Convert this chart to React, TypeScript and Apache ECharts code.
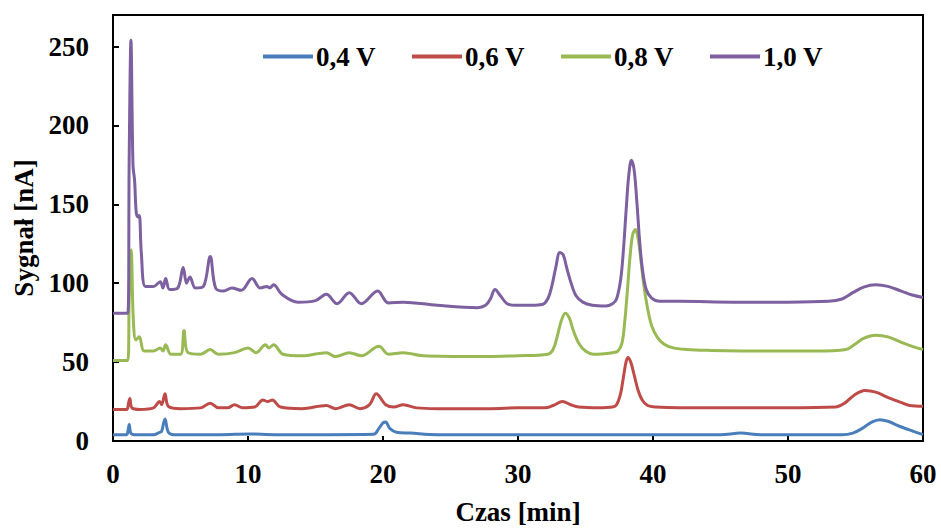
import React, { useEffect, useRef } from "react";
import * as echarts from "echarts";

const seriesNames = ["0,4 V", "0,6 V", "0,8 V", "1,0 V"];
const seriesColors = ["#4a7ebb", "#be4b48", "#98b954", "#7d60a0"];

const xTicks = [0, 10, 20, 30, 40, 50, 60];
const yTicks = [0, 50, 100, 150, 200, 250];

// [time (min), signal (nA)]
const v04: [number, number][] = [
  [0, 4], [1.0, 4], [1.12, 7], [1.2, 10.5], [1.32, 5], [1.6, 4], [3.0, 4], [3.45, 5.5], [3.6, 6],
  [3.85, 14], [4.1, 5.5], [4.5, 4], [8, 4], [10, 4.5], [12, 4], [16, 4], [19.3, 4.2], [19.7, 8],
  [20.0, 11.5], [20.2, 12], [20.5, 8], [21, 5.5], [22, 5], [24, 4], [30, 4], [40, 4], [45, 4],
  [46.5, 5], [48, 4], [54, 4], [54.8, 5], [55.5, 8], [56.2, 12], [56.8, 13.5], [57.4, 12.5],
  [58.2, 9.5], [59.0, 7], [60, 4]
];

const v06: [number, number][] = [
  [0, 20], [1.0, 20], [1.15, 24], [1.25, 27], [1.4, 21], [2, 20], [3, 21], [3.45, 25], [3.6, 23],
  [3.85, 30], [4.1, 22], [5, 20.5], [6.5, 21], [7.2, 24], [7.8, 21], [8.5, 21], [9.0, 23], [9.6, 21],
  [10.5, 21.5], [11.1, 26], [11.45, 25], [11.8, 26], [12.4, 21.5], [14, 20.5], [15.8, 22.5],
  [16.5, 20.5], [17.5, 23], [18.3, 20.5], [19.0, 23], [19.5, 30], [20.2, 23], [20.8, 21.5],
  [21.5, 23], [22.5, 21], [24, 20.5], [28, 20.5], [30, 21], [32, 21], [32.6, 22.5], [33.3, 25],
  [33.9, 23], [34.5, 21.5], [36, 21], [37.0, 21.5], [37.3, 23], [37.6, 30], [37.8, 40],
  [38.0, 50], [38.15, 53], [38.35, 50], [38.6, 42], [38.9, 32], [39.2, 26], [39.6, 22.5],
  [40.2, 21.5], [42, 21], [46, 21], [50, 21], [53.5, 21.5], [54.2, 24], [54.9, 29], [55.7, 32],
  [56.5, 31], [57.3, 28], [58.2, 25], [59, 22.5], [60, 22]
];

const v08: [number, number][] = [
  [0, 51], [1.1, 51], [1.2, 90], [1.35, 121], [1.5, 78], [1.7, 64], [1.95, 66], [2.3, 57],
  [3.0, 57], [3.5, 59], [3.7, 57], [3.9, 61], [4.3, 55], [5.0, 55], [5.26, 70], [5.55, 56],
  [6.5, 55], [7.2, 58], [7.8, 55], [9.0, 56], [10.0, 59], [10.6, 56], [11.3, 61], [11.55, 59],
  [11.9, 61], [12.6, 55], [14, 54], [15.8, 56], [16.5, 53.5], [17.5, 56], [18.4, 54], [19.7, 60],
  [20.4, 55], [21.5, 56], [23, 54], [27, 53.5], [30, 54], [32.2, 55], [32.6, 58], [32.9, 66],
  [33.2, 76], [33.5, 81], [33.8, 78], [34.1, 70], [34.5, 62], [35.0, 57], [35.6, 55], [37.0, 56],
  [37.4, 57], [37.7, 62], [37.9, 75], [38.1, 95], [38.3, 117], [38.5, 131], [38.7, 134],
  [38.9, 128], [39.1, 115], [39.3, 100], [39.6, 84], [39.9, 73], [40.3, 66], [40.8, 61.5],
  [41.5, 59], [42.5, 58], [44, 57.5], [48, 57], [52, 57], [54.3, 58], [54.9, 61], [55.6, 65],
  [56.5, 67], [57.4, 66], [58.4, 62.5], [59.2, 60], [60, 58]
];

const v10: [number, number][] = [
  [0, 81], [1.1, 81], [1.2, 180], [1.33, 254], [1.48, 175], [1.6, 165], [1.72, 145], [1.85, 142],
  [1.95, 143], [2.1, 119], [2.4, 98], [3.0, 98], [3.5, 101], [3.7, 97], [3.9, 103], [4.2, 96],
  [4.8, 97], [5.2, 110], [5.45, 100], [5.7, 104], [6.1, 97], [6.7, 98], [7.2, 117], [7.6, 97],
  [8.2, 95], [8.8, 97], [9.5, 95.5], [10.3, 103], [10.9, 97], [11.4, 98], [11.6, 97], [11.9, 99],
  [12.5, 93], [13.7, 88], [15, 89], [15.8, 93], [16.6, 87], [17.5, 94], [18.4, 87], [19.6, 95],
  [20.4, 87.5], [21.5, 88], [24, 86], [27, 84.5], [27.6, 86], [27.95, 90], [28.3, 96],
  [28.7, 92], [29.2, 87], [29.8, 86], [31, 86], [31.8, 86.5], [32.2, 90], [32.5, 98], [32.8, 110],
  [33.1, 119.5], [33.35, 118], [33.6, 110], [33.9, 101], [34.3, 92], [34.8, 88], [35.5, 86],
  [36.5, 85.5], [37.0, 87], [37.3, 90], [37.6, 102], [37.8, 120], [38.0, 145], [38.2, 168],
  [38.4, 178], [38.6, 172], [38.8, 152], [39.0, 128], [39.2, 110], [39.5, 96], [39.9, 90.5],
  [40.5, 88.5], [42, 88.5], [46, 88], [50, 88], [53, 88.5], [54.0, 90], [54.8, 94], [55.6, 97.5],
  [56.5, 99], [57.4, 98], [58.4, 95], [59.2, 92.5], [60, 91]
];

const seriesData = [v04, v06, v08, v10];

const FONT = "'Liberation Serif', 'Times New Roman', serif";

export default function App() {
  const ref = useRef<HTMLDivElement>(null);
  useEffect(() => {
    document.body.style.margin = "0";
    const chart = echarts.init(ref.current!, undefined, { renderer: "svg" });
    const textStyle = { fontFamily: FONT, fontWeight: "bold" as const, fontSize: 27, color: "#000" };
    chart.setOption({
      animation: false,
      backgroundColor: "#fff",
      textStyle: { fontFamily: FONT },
      legend: {
        left: 258,
        top: 38,
        itemWidth: 50,
        itemHeight: 4,
        itemGap: 36,
        icon: "rect",
        textStyle: { ...textStyle, padding: [0, 0, 0, -2] },
        data: seriesNames,
      },
      grid: {
        left: 113,
        right: 18,
        top: 15,
        bottom: 90,
        show: true,
        borderColor: "#000",
        borderWidth: 2,
      },
      xAxis: {
        type: "value",
        min: 0,
        max: 60,
        interval: 10,
        name: "Czas [min]",
        nameLocation: "middle",
        nameGap: 57,
        nameTextStyle: textStyle,
        axisLine: { show: true, lineStyle: { color: "#000", width: 2 } },
        axisTick: { show: true, inside: true, length: 5, lineStyle: { color: "#000", width: 2 } },
        axisLabel: {
          ...textStyle,
          margin: 19,
          formatter: (v: number) => (xTicks.includes(v) ? String(v) : ""),
        },
        splitLine: { show: false },
      },
      yAxis: {
        type: "value",
        min: 0,
        max: 270,
        interval: 50,
        name: "Sygnał [nA]",
        nameLocation: "middle",
        nameGap: 74,
        nameTextStyle: textStyle,
        axisLine: { show: true, lineStyle: { color: "#000", width: 2 } },
        axisTick: { show: true, inside: true, length: 6, lineStyle: { color: "#000", width: 2 } },
        axisLabel: {
          ...textStyle,
          margin: 24,
          formatter: (v: number) => (yTicks.includes(v) ? String(v) : ""),
        },
        splitLine: { show: false },
      },
      series: seriesData.map((d, i) => ({
        name: seriesNames[i],
        type: "line",
        data: d,
        showSymbol: false,
        smooth: 0.35,
        color: seriesColors[i],
        lineStyle: { width: 3, color: seriesColors[i] },
      })),
    });
    return () => chart.dispose();
  }, []);
  return (
    <div
      ref={ref}
      style={{ position: "fixed", left: 0, top: 0, width: 941, height: 531 }}
    />
  );
}
